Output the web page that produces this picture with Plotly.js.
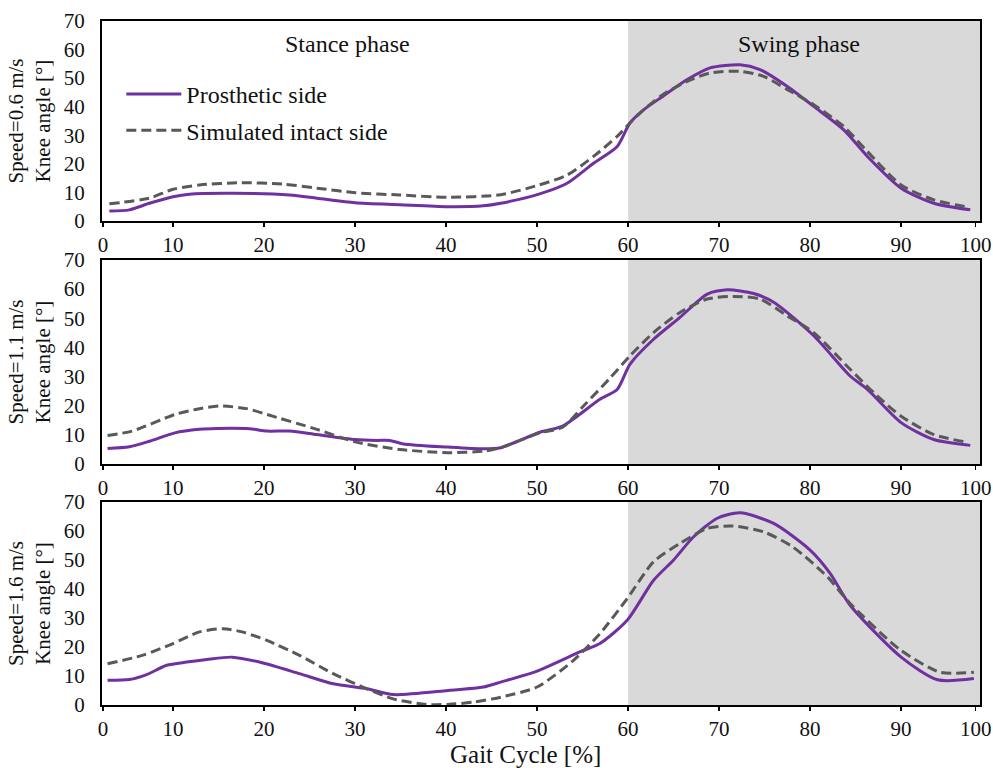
<!DOCTYPE html>
<html><head><meta charset="utf-8">
<script src="https://cdn.plot.ly/plotly-3.0.1.min.js"></script>
<style>html,body{margin:0;padding:0;background:#fff}</style>
</head><body><div id="chart" style="width:993px;height:768px"></div>
<script>
// ---- data ----
const speedLabels = ['Speed=0.6 m/s', 'Speed=1.1 m/s', 'Speed=1.6 m/s'];
const seriesNames = ['Prosthetic side', 'Simulated intact side'];
const phaseLabels = ['Stance phase', 'Swing phase'];
const xTickLabels = ['0', '10', '20', '30', '40', '50', '60', '70', '80', '90', '100'];
const yTickVals = [0, 10, 20, 30, 40, 50, 60, 70];
const xTitle = 'Gait Cycle [%]';

// Speed 0.6 m/s
const pros06x = [3.0, 5.2, 7.4, 10, 11.8, 16.5, 22.8, 25.8, 30, 34.9, 40.2, 44.1, 46, 50.2, 53.3, 56.2, 58.8, 60.2, 61.7, 63.8, 66.5, 69, 72.3, 74.5, 77.5, 80.4, 83.7, 86.3, 90, 93.6, 97.6];
const pros06y = [3.5, 3.9, 6.2, 8.5, 9.4, 9.7, 9.1, 8.0, 6.4, 5.7, 5.0, 5.3, 6.2, 9.4, 13.2, 20.2, 26.1, 34.3, 38.9, 43.6, 49.5, 53.6, 54.7, 53, 47.1, 40.1, 31.9, 22.6, 11.5, 6.2, 3.9];
const sim06x = [3.0, 7.4, 10, 12.9, 17.3, 22.1, 25.8, 30, 34.9, 40.2, 46, 50.2, 53.3, 56.2, 58.8, 60.2, 61.7, 63.8, 66.5, 69, 72.3, 74.9, 77.5, 80.4, 83.7, 86.3, 90, 93.6, 97.2];
const sim06y = [6.0, 8.0, 11.1, 12.6, 13.4, 12.9, 11.5, 9.9, 9.1, 8.3, 9.2, 12.6, 16.1, 22.6, 29.6, 34.3, 38.9, 44.2, 48.9, 51.8, 52.4, 50.6, 46, 40.7, 33.1, 24.3, 12.6, 7.4, 5.0];

// Speed 1.1 m/s
const pros11x = [2.8, 5.2, 7.4, 10.2, 12.9, 14.8, 18.4, 20.3, 22.8, 25.8, 30, 32.4, 33.8, 35.3, 40.2, 44.1, 46, 50.3, 52.8, 56.9, 58.8, 60.2, 62.8, 65.7, 68.7, 70.9, 73.8, 76, 80.4, 84.4, 86.3, 90, 93.6, 97.6];
const pros11y = [5.3, 5.9, 7.8, 10.7, 11.9, 12.2, 12.1, 11.3, 11.3, 10.1, 8.4, 8.1, 8.1, 6.9, 5.8, 5.2, 5.6, 10.9, 13.0, 22.2, 25.6, 34.2, 42.8, 50.3, 58.3, 59.8, 58.5, 55.5, 44, 30.2, 25.6, 14.2, 8.4, 6.4];
const sim11x = [2.8, 5.5, 10.2, 12.9, 15.1, 18.1, 20.3, 25.8, 30, 34.9, 40.2, 44.1, 46, 50.3, 52.8, 55.1, 57.9, 60.2, 62.8, 65.7, 68.7, 71.5, 74.5, 77.5, 80.4, 84.4, 87.4, 90, 93.6, 97.2];
const sim11y = [9.8, 11.3, 17.0, 19.0, 19.9, 19.0, 17.0, 11.9, 7.6, 5.0, 3.9, 4.4, 5.6, 10.7, 12.6, 19.9, 29.1, 37.1, 45.1, 52, 56.6, 57.5, 56.6, 50.8, 45.1, 32.5, 23.3, 16.4, 10.1, 7.5];

// Speed 1.6 m/s
const pros16x = [2.8, 5.2, 7.1, 9.3, 11.5, 13.7, 16.5, 19.9, 23.9, 27.6, 31.3, 34.2, 40.2, 44.1, 46, 50, 54.7, 56.9, 59.9, 62.8, 65, 67.2, 69.8, 72.3, 76, 80, 82.2, 84.4, 90, 94, 98];
const pros16y = [8.5, 8.8, 10.5, 13.7, 14.8, 15.7, 16.5, 14.5, 10.8, 7.3, 5.6, 3.6, 5.0, 6.2, 7.9, 11.7, 18.3, 21.2, 29.2, 43, 50, 58, 64.4, 66.3, 62.6, 53.4, 45.4, 34.4, 16.5, 8.7, 9.1];
const sim16x = [2.8, 6.6, 10, 12.9, 15.5, 17.6, 20.3, 23.9, 27.6, 31.3, 34.2, 37.9, 40.2, 43, 46, 50, 54, 56.9, 59.9, 62.8, 65.7, 68.7, 71.5, 74.9, 78.1, 81.9, 84.4, 90, 94.3, 98];
const sim16y = [14.2, 17.1, 21.2, 25.2, 26.3, 25.2, 22.3, 17.1, 10.8, 5.6, 2.1, 0.2, 0.2, 1.0, 2.7, 6.2, 15.4, 24.6, 36.7, 49.4, 55.7, 60.9, 61.7, 59.7, 54.5, 44.2, 35, 18.8, 11.3, 11.3];

// ---- styling / layout ----
const FONT = '"Liberation Serif", "Times New Roman", serif';
const PURPLE = '#7030a0';
const GRAY = '#595959';
const TXT = '#111111';
const xRange = [2.19, 98.67];
const xTickVals = [2.3, 10, 20, 30, 40, 50, 60, 70, 80, 90, 98.2];
const swingStart = 60;

const panels = [
  {px: pros06x, py: pros06y, sx: sim06x, sy: sim06y},
  {px: pros11x, py: pros11y, sx: sim11x, sy: sim11y},
  {px: pros16x, py: pros16y, sx: sim16x, sy: sim16y}
];
const domains = [[0.7076, 1.0], [0.3523, 0.6506], [0, 0.2968]];

const traces = [];
const layout = {
  width: 993, height: 768,
  margin: {l: 102, r: 13, t: 21, b: 63},
  paper_bgcolor: '#ffffff', plot_bgcolor: 'rgba(0,0,0,0)',
  font: {family: FONT, color: TXT, size: 20},
  showlegend: true,
  legend: {
    x: 0.022, y: 0.9255, xanchor: 'left', yanchor: 'top',
    bgcolor: 'rgba(0,0,0,0)', font: {family: FONT, size: 24, color: TXT},
    itemwidth: 55, tracegroupgap: 2, traceorder: 'grouped'
  },
  shapes: [], annotations: []
};

panels.forEach((p, i) => {
  const sfx = i === 0 ? '' : String(i + 1);
  const xa = 'x' + sfx, ya = 'y' + sfx;
  traces.push({
    x: p.px, y: p.py, xaxis: xa, yaxis: ya, mode: 'lines', name: seriesNames[0],
    legendgroup: 'pros', showlegend: i === 0,
    line: {color: PURPLE, width: 3, shape: 'spline', smoothing: 0.7}
  });
  traces.push({
    x: p.sx, y: p.sy, xaxis: xa, yaxis: ya, mode: 'lines', name: seriesNames[1],
    legendgroup: 'sim', showlegend: i === 0,
    line: {color: GRAY, width: 3, dash: '10px,5px', shape: 'spline', smoothing: 0.7}
  });
  layout['xaxis' + sfx] = {
    domain: [0, 1], anchor: ya, range: xRange,
    tickmode: 'array', tickvals: xTickVals, ticktext: xTickLabels,
    ticks: 'outside', ticklen: 4, tickwidth: 1.5, tickcolor: '#000',
    showline: true, linecolor: '#000', linewidth: 2, mirror: true,
    showgrid: false, zeroline: false, ticklabelstandoff: 0, ticklabeloverflow: 'allow',
    tickfont: {family: FONT, size: 21, color: TXT},
    title: {text: ''}
  };
  layout['yaxis' + sfx] = {
    domain: domains[i], anchor: xa, range: [0, 70],
    tickmode: 'array', tickvals: yTickVals, ticks: '',
    showline: true, linecolor: '#000', linewidth: 2, mirror: true,
    showgrid: false, zeroline: false, ticklabelstandoff: 11, ticklabeloverflow: 'allow',
    tickfont: {family: FONT, size: 21, color: TXT},
    title: {text: speedLabels[i] + '<br>Knee angle [°]', font: {family: FONT, size: 21, color: TXT}, standoff: 7}
  };
  layout.shapes.push({
    type: 'rect', xref: xa, yref: ya + ' domain', x0: swingStart, x1: xRange[1], y0: 0, y1: 1,
    fillcolor: '#d9d9d9', line: {width: 0}, layer: 'below'
  });
});

layout.annotations.push(
  {xref: 'x', yref: 'y', x: 29.2, y: 61.8, text: phaseLabels[0], showarrow: false,
   font: {family: FONT, size: 24, color: TXT}},
  {xref: 'x', yref: 'y', x: 78.8, y: 61.8, text: phaseLabels[1], showarrow: false,
   font: {family: FONT, size: 24, color: TXT}},
  {xref: 'paper', yref: 'paper', x: (525.5 - 102) / 878, y: -0.073, yanchor: 'middle',
   text: xTitle, showarrow: false, font: {family: FONT, size: 25, color: TXT}}
);

Plotly.newPlot('chart', traces, layout, {displayModeBar: false, staticPlot: true});
</script></body></html>
